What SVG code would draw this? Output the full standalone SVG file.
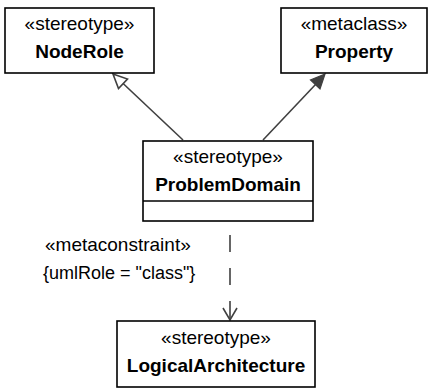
<svg xmlns="http://www.w3.org/2000/svg" width="430" height="391" viewBox="0 0 430 391">
<style>
.box{fill:#fff;stroke:#000;stroke-width:1.6}
.st{font-family:"Liberation Sans",Arial,sans-serif;font-size:19px;fill:#000;text-anchor:middle}
.nm{font-family:"Liberation Sans",Arial,sans-serif;font-size:19px;font-weight:bold;fill:#000;text-anchor:middle}
.lbl{font-family:"Liberation Sans",Arial,sans-serif;font-size:19px;fill:#000}
.conn{stroke:#404040;stroke-width:1.6;fill:none}
</style>
<g id="connectors">
<line class="conn" x1="183" y1="140" x2="121.5" y2="82"/>
<polygon points="113,74 127.5,79 118.5,88.5" fill="#fff" stroke="#404040" stroke-width="1.6"/>
<line class="conn" x1="263" y1="140" x2="316" y2="84"/>
<polygon points="325,74 320,89 310.5,80" fill="#404040" stroke="#404040" stroke-width="1.2"/>
<line class="conn" x1="230" y1="221" x2="230" y2="320" stroke-dasharray="17 16" stroke-dashoffset="19"/>
<polyline class="conn" points="223,308 230,320 237,308"/>
</g>
<g id="NodeRole">
<rect class="box" x="5" y="8" width="149" height="65"/>
<text class="st" x="79.5" y="30">«stereotype»</text>
<text class="nm" x="79.5" y="58">NodeRole</text>
</g>
<g id="Property">
<rect class="box" x="281" y="8" width="146" height="65"/>
<text class="st" x="354" y="30">«metaclass»</text>
<text class="nm" x="354" y="58">Property</text>
</g>
<g id="ProblemDomain">
<rect class="box" x="143" y="141" width="170" height="80"/>
<line x1="143" y1="201" x2="313" y2="201" stroke="#000" stroke-width="1.6"/>
<text class="st" x="228" y="163">«stereotype»</text>
<text class="nm" x="228" y="191">ProblemDomain</text>
</g>
<g id="LogicalArchitecture">
<rect class="box" x="117" y="321" width="198" height="66"/>
<text class="st" x="216" y="344">«stereotype»</text>
<text class="nm" x="216" y="372">LogicalArchitecture</text>
</g>
<g id="constraint">
<text class="lbl" x="45" y="251">«metaconstraint»</text>
<text class="lbl" x="43" y="279" style="font-size:18px">{umlRole = "class"}</text>
</g>
</svg>
